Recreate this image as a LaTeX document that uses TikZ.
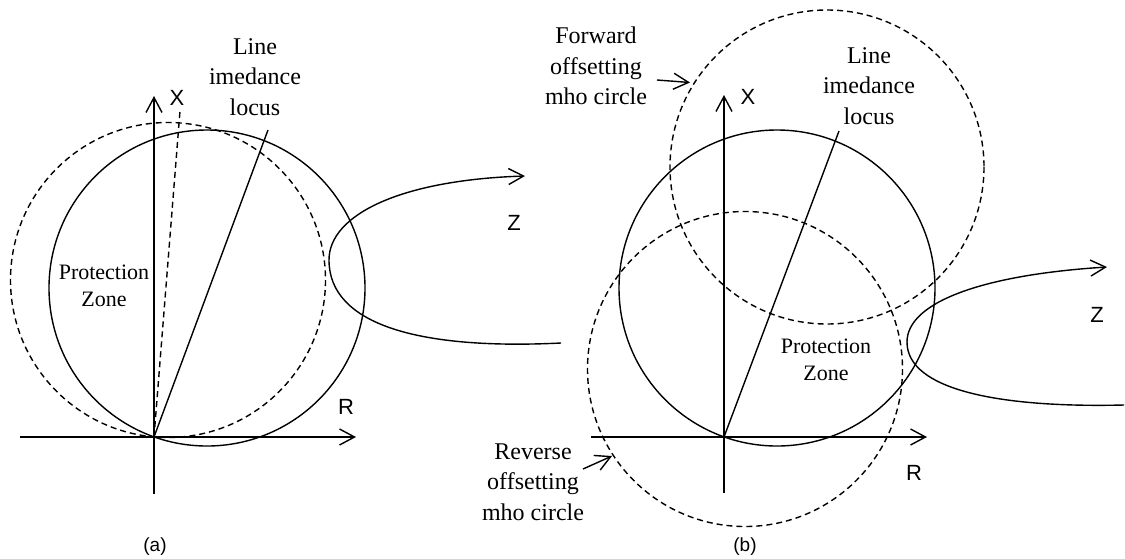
\documentclass[tikz,border=0pt]{standalone}
\usepackage{fontspec}
\setmainfont{Liberation Serif}
\setsansfont{Liberation Sans}
\usetikzlibrary{arrows.meta}
\begin{document}
\begin{tikzpicture}[x=1pt,y=-1pt, line width=1.4pt,
  arrowline/.style={-{Straight Barb[length=15pt,width=16pt]}},
  dsh/.style={dash pattern=on 6pt off 4pt},
  lbl/.style={font=\fontsize{24}{30.5}\selectfont, align=center, inner sep=0pt},
  pz/.style={font=\fontsize{22}{27}\selectfont, align=center, inner sep=0pt},
  axlabel/.style={font=\sffamily\fontsize{22}{26}\selectfont, inner sep=0pt},
  captext/.style={font=\sffamily\fontsize{19}{22}\selectfont, inner sep=0pt}]

\path[use as bounding box] (0,0) rectangle (1125,558);

% ---------------- panel (a) ----------------
\coordinate (Oa) at (154,437);
\coordinate (aL) at (20,437);
\coordinate (aR) at (356,437);
\coordinate (aB) at (154,494);
\coordinate (aT) at (154,96);
\coordinate (locA) at (268,130);
\coordinate (dlocA) at (180,111);
\coordinate (zaS) at (561,343);
\coordinate (zaM) at (329,260);
\coordinate (zaE) at (525,176);

\draw[arrowline] (aL) -- (aR);
\draw[arrowline] (aB) -- (aT);
\draw (207,288) circle[radius=158];
\draw[dsh] (168,280) circle[radius=157.5];
\draw (Oa) -- (locA);
\draw[dsh] (Oa) -- (dlocA);
\draw[arrowline] (zaS) .. controls (420,350) and (329,325) .. (zaM)
               .. controls (329,215) and (400,180) .. (zaE);

\node[lbl] (lineA) at (255,77) {Line\\imedance\\locus};
\node[pz] (pzA) at (104,286) {Protection\\Zone};
\node[axlabel] (xA) at (177,98) {X};
\node[axlabel] (rA) at (346,407) {R};
\node[axlabel] (zA) at (514,223) {Z};
\node[captext] (capA) at (155,547) {(a)};

% ---------------- panel (b) ----------------
\coordinate (Ob) at (724,437);
\coordinate (bL) at (591,437);
\coordinate (bR) at (927,437);
\coordinate (bB) at (724,493);
\coordinate (bT) at (724,95);
\coordinate (locB) at (839,131);
\coordinate (zbS) at (1124,405);
\coordinate (zbM) at (907,342);
\coordinate (zbE) at (1107,267);
\coordinate (fwdS) at (657,80);
\coordinate (fwdE) at (690,82.5);
\coordinate (revS) at (583,469);
\coordinate (revE) at (612,456);

\draw[arrowline] (bL) -- (bR);
\draw[arrowline] (bB) -- (bT);
\draw (777,288) circle[radius=158];
\draw[dsh] (827,167) circle[radius=157];
\draw[dsh] (745,369) circle[radius=157.5];
\draw (Ob) -- (locB);
\draw[arrowline] (zbS) .. controls (1000,408) and (907,390) .. (zbM)
               .. controls (907,303) and (980,275) .. (zbE);
\draw[arrowline] (fwdS) -- (fwdE);
\draw[arrowline] (revS) -- (revE);

\node[lbl] (lineB) at (869,86) {Line\\imedance\\locus};
\node[pz] (pzB) at (826,360) {Protection\\Zone};
\node[lbl] (fwdL) at (596,66) {Forward\\offsetting\\mho circle};
\node[lbl] (revL) at (533,482) {Reverse\\offsetting\\mho circle};
\node[axlabel] (xB) at (748,97) {X};
\node[axlabel] (rB) at (914,473) {R};
\node[axlabel] (zB) at (1097,315) {Z};
\node[captext] (capB) at (745,547) {(b)};
\end{tikzpicture}
\end{document}
